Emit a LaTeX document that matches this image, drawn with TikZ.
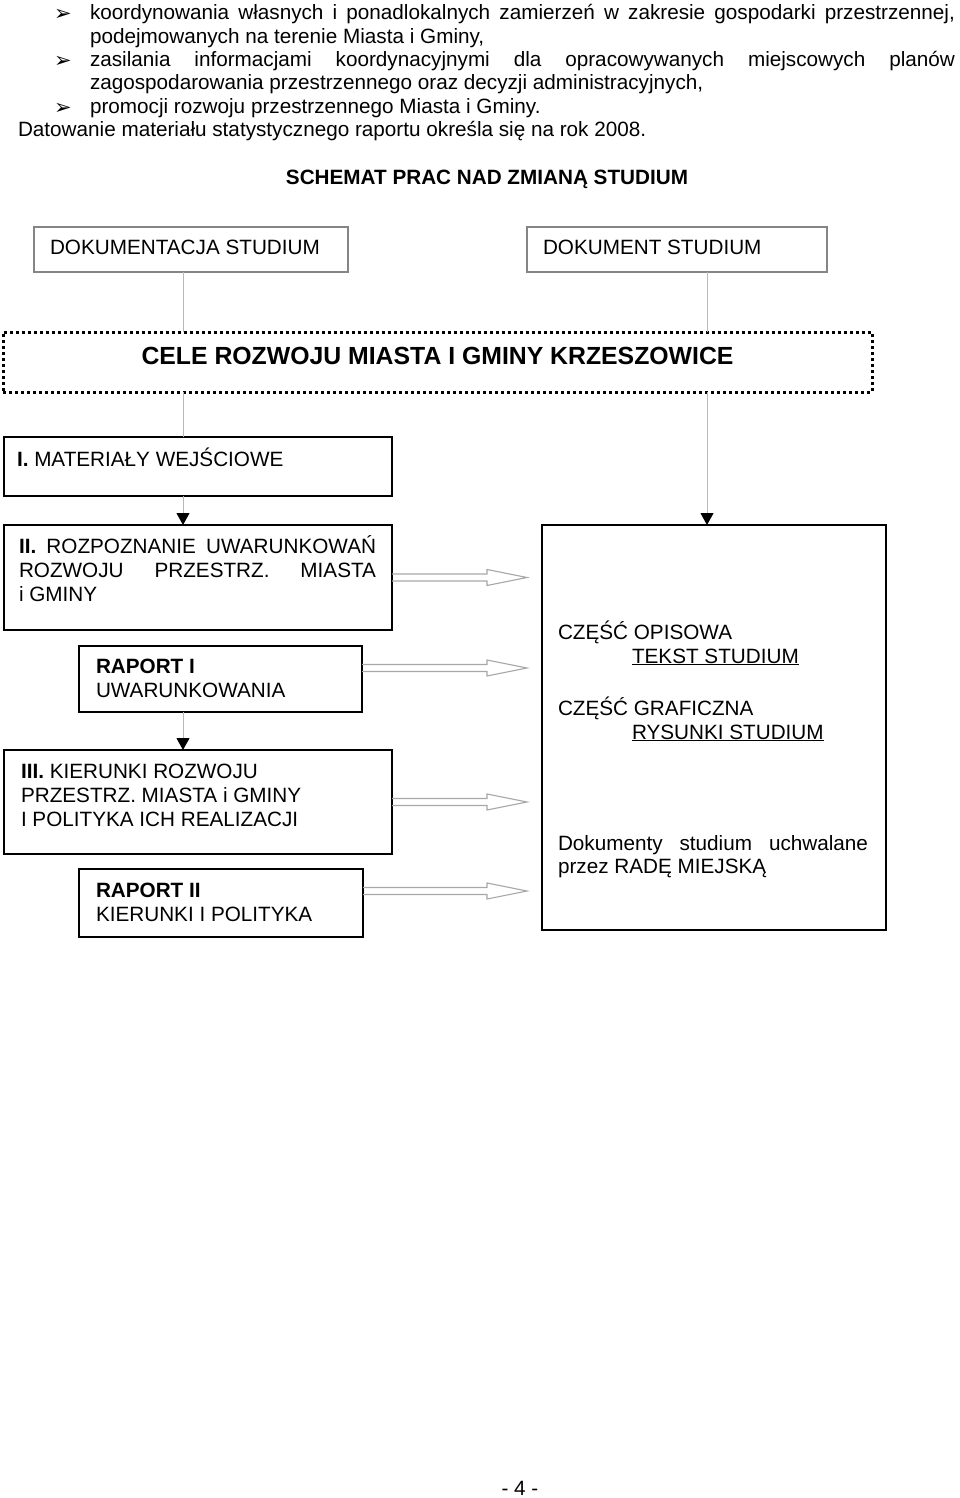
\documentclass[tikz,border=0pt]{standalone}
\usepackage{fontspec}
\setmainfont{Liberation Sans}
\newfontfamily\dejavu{DejaVu Sans}
\usetikzlibrary{arrows.meta,calc,fit}
\definecolor{gline}{HTML}{B8B8B8}
\definecolor{gbox}{HTML}{858585}
\definecolor{harr}{HTML}{A8A8A8}
\newcommand\hollowarr[2]{\draw[harrow] ($(#1)+(0,-3.5)$) -- ($(#2)+(-40,-3.5)$) -- ($(#2)+(-40,-8)$) -- (#2) -- ($(#2)+(-40,8)$) -- ($(#2)+(-40,3.5)$) -- ($(#1)+(0,3.5)$);}
\begin{document}
\begin{tikzpicture}[x=1pt,y=-1pt,
  every node/.style={inner sep=0pt,outer sep=0pt,font=\fontsize{20.7}{24}\selectfont},
  txt/.style={anchor=base west},
  bx/.style={draw=black,line width=2pt,inner sep=0pt},
  gbx/.style={draw=gbox,line width=1.2pt,inner sep=0pt},
  dotbx/.style={draw=black,line width=3pt,dash pattern=on 3pt off 3pt,inner sep=0pt},
  conn/.style={draw=gline,line width=1pt},
  blacktip/.style={-{Triangle[length=12pt,width=13pt,black]}},
  harrow/.style={draw=harr,line width=1.1pt,line join=miter},
  bul/.style={anchor=base west,font=\dejavu\fontsize{21}{24}\selectfont}
]
\useasboundingbox (0,0) rectangle (960,1498);

% ---------- boxes ----------
\node[gbx, fit={(34,227)(348,272)}] (dA) {};
\node[gbx, fit={(527,227)(827,272)}] (dB) {};
\node[dotbx, fit={(3,332)(872,392)}] (cele) {};
\node[bx, fit={(4,437)(392,496)}] (m1) {};
\node[bx, fit={(4,525)(392,630)}] (m2) {};
\node[bx, fit={(79,646)(362,712)}] (r1) {};
\node[bx, fit={(4,750)(392,854)}] (m3) {};
\node[bx, fit={(79,869)(363,937)}] (r2) {};
\node[bx, fit={(542,525)(886,930)}] (R) {};

% ---------- connectors ----------
\coordinate (xl) at (183,0);
\coordinate (xr) at (707,0);
\draw[conn] (xl |- dA.south) -- (xl |- cele.north);
\draw[conn] (xl |- cele.south) -- (xl |- m1.north);
\draw[conn,blacktip] (xl |- m1.south) -- (xl |- m2.north);
\draw[conn,blacktip] (xl |- r1.south) -- (xl |- m3.north);
\draw[conn] (xr |- dB.south) -- (xr |- cele.north);
\draw[conn,blacktip] (xr |- cele.south) -- (xr |- R.north);

% ---------- hollow arrows ----------
\coordinate (a1s) at (m2.east);
\coordinate (a1e) at ($(R.west |- a1s)+(-15,0)$);
\coordinate (a2s) at ($(r1.east)+(0,-11)$);
\coordinate (a2e) at ($(R.west |- a2s)+(-15,0)$);
\coordinate (a3s) at (m3.east);
\coordinate (a3e) at ($(R.west |- a3s)+(-15,0)$);
\coordinate (a4s) at ($(r2.east)+(0,-12)$);
\coordinate (a4e) at ($(R.west |- a4s)+(-15,0)$);
\hollowarr{a1s}{a1e}
\hollowarr{a2s}{a2e}
\hollowarr{a3s}{a3e}
\hollowarr{a4s}{a4e}

% ---------- top text ----------
\node[bul] (b1) at (54,21) {➢};
\node[txt] (t1) at (90,20) {\makebox[865pt][s]{koordynowania własnych i ponadlokalnych zamierzeń w zakresie gospodarki przestrzennej,}};
\node[txt] (t2) at (90,43.5) {podejmowanych na terenie Miasta i Gminy,};
\node[bul] (b2) at (54,68) {➢};
\node[txt] (t3) at (90,67) {\makebox[865pt][s]{zasilania informacjami koordynacyjnymi dla opracowywanych miejscowych planów}};
\node[txt] (t4) at (90,90) {zagospodarowania przestrzennego oraz decyzji administracyjnych,};
\node[bul] (b3) at (54,114.5) {➢};
\node[txt] (t5) at (90,113.5) {promocji rozwoju przestrzennego Miasta i Gminy.};
\node[txt] (t6) at (18,137) {Datowanie materiału statystycznego raportu określa się na rok 2008.};

\node[anchor=base] (title) at (487,185) {\textbf{SCHEMAT PRAC NAD ZMIANĄ STUDIUM}};

% ---------- box texts ----------
\node[txt] (dAt) at (50,254) {DOKUMENTACJA STUDIUM};
\node[txt] (dBt) at (543,254) {DOKUMENT STUDIUM};
\node[anchor=base,font=\fontsize{24.8}{28}\selectfont\bfseries] (celet) at (437.5,364) {CELE ROZWOJU MIASTA I GMINY KRZESZOWICE};

\node[txt] (m1t) at (17,466) {\textbf{I.} MATERIAŁY WEJŚCIOWE};
\node[txt] (m2t1) at (19,553) {\makebox[357pt][s]{\textbf{II.} ROZPOZNANIE UWARUNKOWAŃ}};
\node[txt] (m2t2) at (19,577) {\makebox[357pt][s]{ROZWOJU PRZESTRZ. MIASTA}};
\node[txt] (m2t3) at (19,601) {i GMINY};
\node[txt] (r1t1) at (96,673) {\textbf{RAPORT I}};
\node[txt] (r1t2) at (96,697) {UWARUNKOWANIA};
\node[txt] (m3t1) at (21,778) {\textbf{III.} KIERUNKI ROZWOJU};
\node[txt] (m3t2) at (21,802) {PRZESTRZ. MIASTA i GMINY};
\node[txt] (m3t3) at (21,826) {I POLITYKA ICH REALIZACJI};
\node[txt] (r2t1) at (96,897) {\textbf{RAPORT II}};
\node[txt] (r2t2) at (96,921) {KIERUNKI I POLITYKA};

\node[txt] (Rt1) at (558,639) {CZĘŚĆ OPISOWA};
\node[txt] (Rt2) at (632,663) {\underline{TEKST STUDIUM}};
\node[txt] (Rt3) at (558,715) {CZĘŚĆ GRAFICZNA};
\node[txt] (Rt4) at (632,739) {\underline{RYSUNKI STUDIUM}};
\node[txt] (Rt5) at (558,850) {\makebox[310pt][s]{Dokumenty studium uchwalane}};
\node[txt] (Rt6) at (558,873) {przez RADĘ MIEJSKĄ};

\node[anchor=base] (page) at (520,1495) {- 4 -};
\end{tikzpicture}
\end{document}
